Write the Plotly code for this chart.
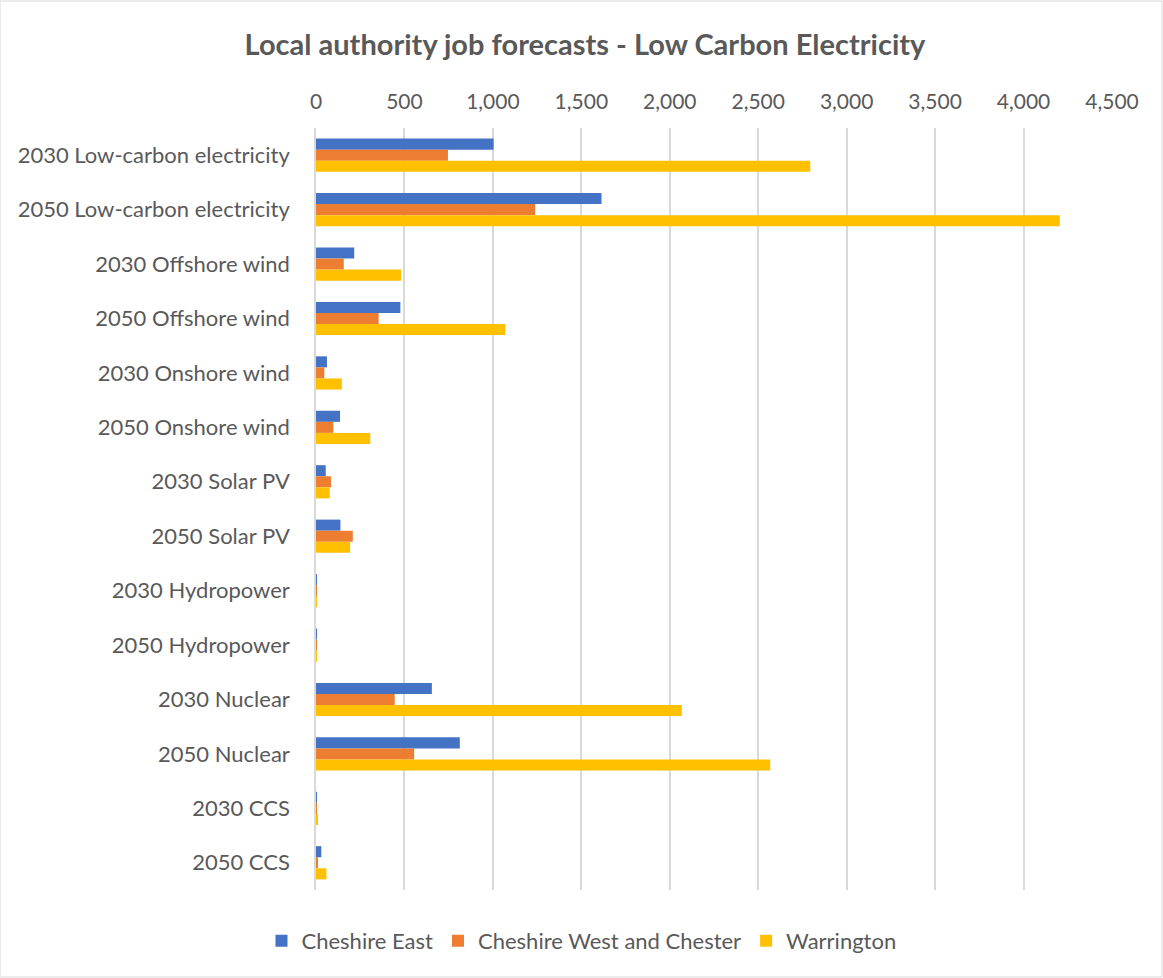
import plotly.graph_objects as go

categories = [
    "2030 Low-carbon electricity", "2050 Low-carbon electricity",
    "2030 Offshore wind", "2050 Offshore wind",
    "2030 Onshore wind", "2050 Onshore wind",
    "2030 Solar PV", "2050 Solar PV",
    "2030 Hydropower", "2050 Hydropower",
    "2030 Nuclear", "2050 Nuclear",
    "2030 CCS", "2050 CCS",
]
cheshire_east = [1004, 1614, 216, 477, 62, 136, 55, 138, 1, 1, 655, 813, 1, 30]
cheshire_west = [746, 1239, 157, 354, 47, 98, 85, 208, 0.5, 0.5, 445, 555, 1, 10]
warrington = [2794, 4205, 481, 1070, 146, 307, 78, 193, 1, 0.5, 2068, 2568, 6, 59]

series = [
    ("Cheshire East", cheshire_east, "#4472C4"),
    ("Cheshire West and Chester", cheshire_west, "#ED7D31"),
    ("Warrington", warrington, "#FFC000"),
]

font_family = "Lato, 'Open Sans', sans-serif"
grey = "#595959"

fig = go.Figure()
for name, vals, color in series:
    fig.add_trace(go.Bar(
        y=categories, x=vals, name=name, orientation="h",
        marker=dict(color=color, line=dict(width=0)),
    ))

fig.update_layout(
    width=1163, height=978,
    barmode="group", bargap=0.39, bargroupgap=0,
    paper_bgcolor="white", plot_bgcolor="white",
    margin=dict(l=316, r=51, t=128, b=88),
    font=dict(family=font_family, color=grey, size=20),
    title=dict(
        text="<b>Local authority job forecasts - Low Carbon Electricity</b>",
        x=0.503, xref="container", xanchor="center",
        y=1 - 45 / 978, yref="container", yanchor="middle",
        font=dict(size=29, color=grey, family=font_family),
    ),
    xaxis=dict(
        side="top", range=[0, 4500], dtick=500, tickformat=",d",
        showgrid=True, gridcolor="#d9d9d9", gridwidth=1.5,
        zeroline=False, showline=False, ticks="",
        tickfont=dict(size=21, color=grey), ticklabelstandoff=14,
    ),
    yaxis=dict(
        autorange="reversed", showgrid=False, zeroline=False,
        showline=True, linecolor="#d9d9d9", linewidth=1.5,
        ticks="", tickfont=dict(size=22, color=grey), ticklabelstandoff=20,
    ),
    legend=dict(
        orientation="h", x=0.5, xref="container", xanchor="center",
        y=1 - 941 / 978, yref="container", yanchor="middle",
        font=dict(size=22, color=grey), traceorder="normal",
        itemwidth=30,
    ),
    shapes=[dict(
        type="rect", xref="paper", yref="paper",
        x0=-316 / 796, x1=1 + 50 / 796,
        y0=-87 / 762, y1=1 + 127 / 762,
        line=dict(color="#d9d9d9", width=1), fillcolor="rgba(0,0,0,0)",
        layer="below",
    )],
)

fig.write_html("out.html")
